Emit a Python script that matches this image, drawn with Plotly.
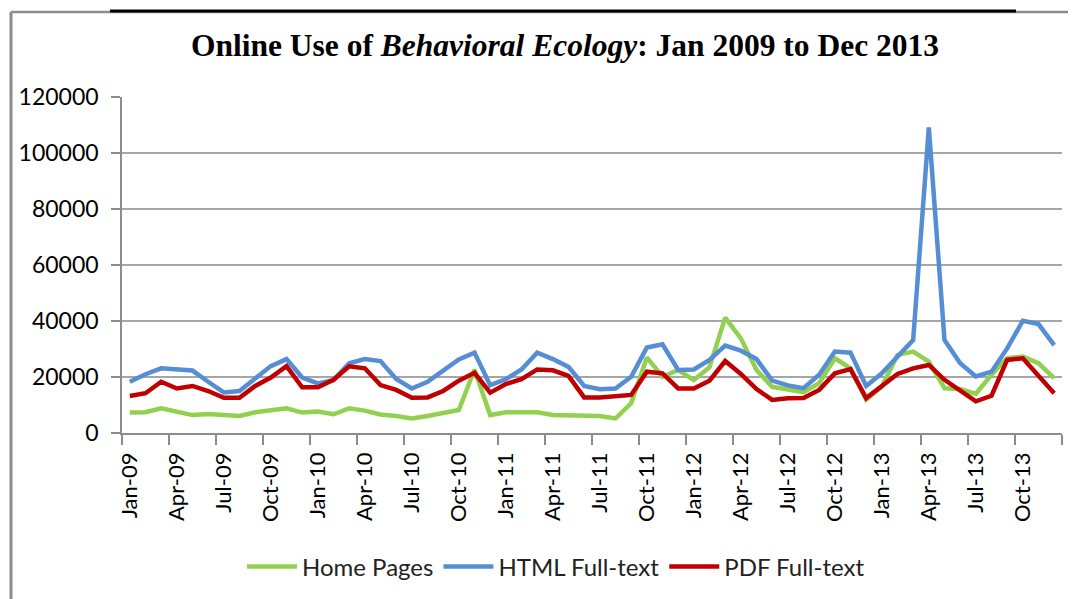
import plotly.graph_objects as go

months = ["Jan", "Feb", "Mar", "Apr", "May", "Jun", "Jul", "Aug", "Sep", "Oct", "Nov", "Dec"]
years = ["09", "10", "11", "12", "13"]
categories = [f"{m}-{y}" for y in years for m in months]

home_pages = [7300, 7400, 8800, 7400, 6400, 6800, 6400, 6100, 7400, 8200, 8800, 7300,
              7700, 6700, 8800, 8000, 6600, 6100, 5200, 6100, 7000, 8200, 22700, 6400,
              7400, 7400, 7400, 6400, 6200, 6100, 6100, 5200, 10600, 27000, 20100, 22500,
              18900, 23500, 41200, 33800, 22500, 16500, 15400, 14600, 17800, 26700, 23100, 11900,
              16600, 27900, 29100, 25500, 16000, 15700, 14000, 20800, 26700, 27300, 24900, 19600]
html_fulltext = [18300, 21000, 23100, 22700, 22300, 18300, 14500, 15000, 19500, 23900, 26400, 19800,
                 17700, 18900, 24900, 26400, 25700, 19300, 15900, 18300, 22300, 26300, 28700, 17100,
                 19200, 22700, 28700, 26400, 23600, 16800, 15600, 15900, 20100, 30500, 31700, 22500,
                 22700, 26100, 31200, 29400, 26400, 18700, 17000, 16000, 20800, 29100, 28700, 16800,
                 21300, 27300, 33200, 109100, 33200, 24900, 20200, 21900, 30200, 40100, 38900, 31400]
pdf_fulltext = [13200, 14200, 18300, 15900, 16800, 15000, 12600, 12600, 16800, 19800, 23900, 16300,
                16300, 19000, 23800, 23100, 17100, 15400, 12600, 12700, 15000, 18700, 21500, 14400,
                17500, 19200, 22700, 22400, 20400, 12700, 12700, 13200, 13600, 21900, 21300, 15900,
                15900, 18700, 25700, 21100, 15700, 11800, 12400, 12500, 15400, 21300, 22800, 12500,
                16800, 21100, 23100, 24300, 19000, 15200, 11300, 13300, 26100, 26700, 20200, 14200]

series_names = ["Home Pages", "HTML Full-text", "PDF Full-text"]
series_colors = ["#92D050", "#558ED5", "#C00000"]
y_ticks = [0, 20000, 40000, 60000, 80000, 100000, 120000]
y_tick_text = [str(v) for v in y_ticks]

idx = list(range(len(categories)))
tick_idx = idx[::3]
tick_text = [categories[i] for i in tick_idx]

fig = go.Figure()
for name, vals, col in zip(series_names, [home_pages, html_fulltext, pdf_fulltext], series_colors):
    fig.add_trace(go.Scatter(x=idx, y=vals, mode="lines", name=name,
                             line=dict(color=col, width=4.5),
                             customdata=categories,
                             hovertemplate="%{customdata}: %{y}<extra>" + name + "</extra>"))

font_family = "Lato, Carlito, Calibri, 'Open Sans', sans-serif"

# plot area in figure pixels (page is offset by the 8px body margin)
L, R, T, B = 114, 1054, 89, 425
W, H = 1076, 599
pw, ph = R - L, B - T


def px(fx):
    return (fx - L) / pw


def py(fy):
    return (B - fy) / ph


fig.update_layout(
    width=W, height=H,
    paper_bgcolor="white", plot_bgcolor="white",
    margin=dict(l=L, r=W - R, t=T, b=H - B, autoexpand=False),
    title=dict(text="<b>Online Use of <i>Behavioral Ecology</i>: Jan 2009 to Dec 2013</b>",
               x=557 / W, xanchor="center", y=1 - 37 / H, yanchor="middle",
               font=dict(family="'Liberation Serif', 'DejaVu Serif', serif", size=31.5, color="black")),
    font=dict(family=font_family, size=20, color="black"),
    legend=dict(orientation="h", x=px(548), xanchor="center", y=py(559), yanchor="middle",
                font=dict(family=font_family, size=24, color="#222"),
                itemwidth=50, tracegroupgap=0, bgcolor="rgba(0,0,0,0)"),
    showlegend=True,
)

fig.update_xaxes(
    range=[-0.5, len(categories) - 0.5],
    tickmode="array", tickvals=tick_idx, ticktext=tick_text,
    tickangle=-90, ticks="", showgrid=False, zeroline=False,
    showline=True, linecolor="#8c8c8c", linewidth=1.5,
    ticklabelstandoff=9, automargin=False,
    tickfont=dict(family=font_family, size=22, color="black"),
    minor=dict(tick0=-0.5, dtick=3, ticks="outside", ticklen=10, tickcolor="#8c8c8c", tickwidth=1.5, showgrid=False),
)
fig.update_yaxes(
    range=[0, 120000], tickmode="array", tickvals=y_ticks, ticktext=y_tick_text,
    ticks="outside", ticklen=9, tickcolor="#8c8c8c", tickwidth=1.5,
    showgrid=True, gridcolor="#a6a6a6", gridwidth=1.5,
    showline=True, linecolor="#8c8c8c", linewidth=1.5, zeroline=False,
    ticklabelstandoff=8, automargin=False,
    tickfont=dict(family=font_family, size=23, color="black"),
)

# decorative frame lines of the original graphic
fig.add_shape(type="line", xref="paper", yref="paper", x0=px(3), x1=px(W + 10),
              y0=py(4), y1=py(4), line=dict(color="#8c8c8c", width=2.5))
fig.add_shape(type="line", xref="paper", yref="paper", x0=px(3), x1=px(3),
              y0=py(4), y1=py(H + 10), line=dict(color="#8c8c8c", width=3))
fig.add_shape(type="line", xref="paper", yref="paper", x0=px(102), x1=px(1008),
              y0=py(3), y1=py(3), line=dict(color="black", width=3))

fig.write_html("out.html")
